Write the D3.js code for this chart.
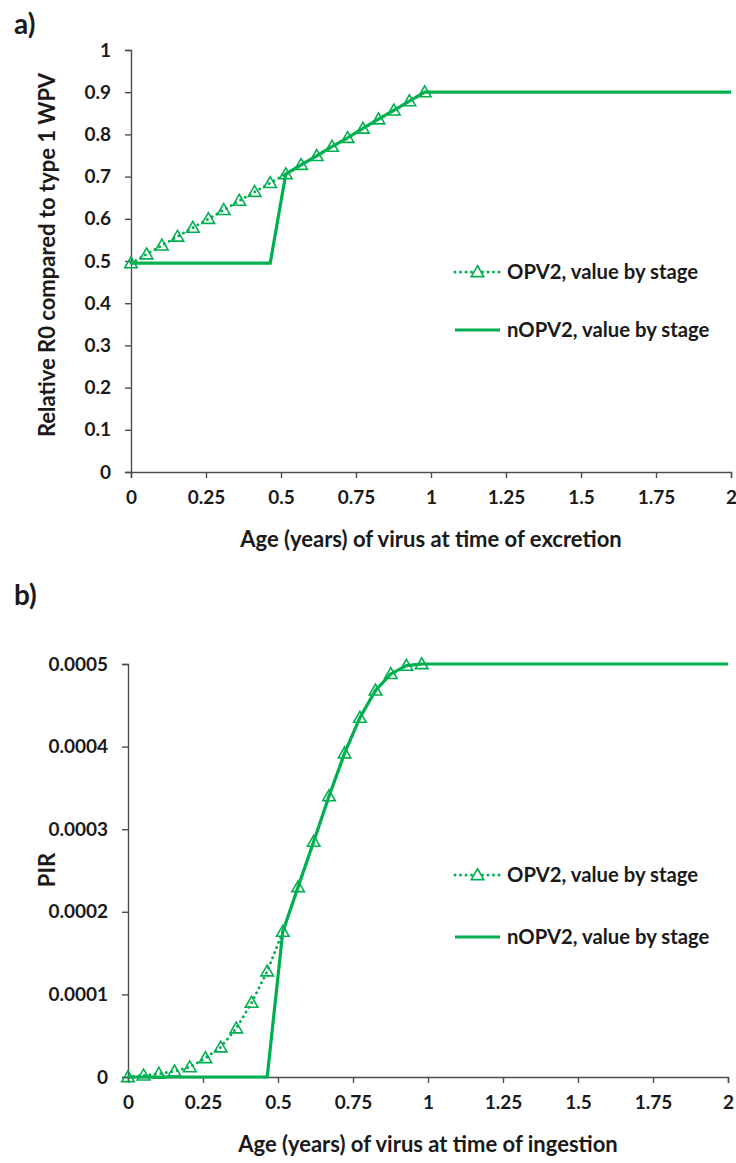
<!DOCTYPE html>
<html>
<head>
<meta charset="utf-8">
<script src="https://cdn.jsdelivr.net/npm/d3@7"></script>
<style>
  body { margin: 0; background: #fff; }
  text { font-family: Lato, "Open Sans", sans-serif; font-weight: bold; fill: #1a1a1a; }
</style>
</head>
<body>
<div id="chart"></div>
<script>
// stage ages (years), shared by both panels
var stageAge = [0, 0.052, 0.103, 0.155, 0.206, 0.258, 0.309, 0.361, 0.412, 0.464,
                0.516, 0.567, 0.619, 0.670, 0.722, 0.773, 0.825, 0.876, 0.928, 0.979];

// panel a) relative R0
var r0Opv2  = [0.495, 0.516, 0.537, 0.558, 0.579, 0.600, 0.621, 0.643, 0.664, 0.685,
               0.706, 0.728, 0.749, 0.771, 0.792, 0.814, 0.836, 0.857, 0.879, 0.900];
var r0NopvAge = [0, 0.052, 0.103, 0.155, 0.206, 0.258, 0.309, 0.361, 0.412, 0.464,
                 0.516, 0.567, 0.619, 0.670, 0.722, 0.773, 0.825, 0.876, 0.928, 0.979, 2];
var r0Nopv2 = [0.495, 0.495, 0.495, 0.495, 0.495, 0.495, 0.495, 0.495, 0.495, 0.495,
               0.706, 0.728, 0.749, 0.771, 0.792, 0.814, 0.836, 0.857, 0.879, 0.900, 0.900];

// panel b) PIR
var pirOpv2  = [0, 0.000002, 0.000004, 0.000007, 0.000012, 0.000023, 0.000036, 0.000059, 0.00009, 0.000128,
                0.000176, 0.00023, 0.000285, 0.00034, 0.000392, 0.000435, 0.000468, 0.000488, 0.000498, 0.0005];
var pirNopvAge = r0NopvAge;
var pirNopv2 = [0, 0, 0, 0, 0, 0, 0, 0, 0, 0,
                0.000176, 0.00023, 0.000285, 0.00034, 0.000392, 0.000435, 0.000468, 0.000488, 0.000498, 0.0005, 0.0005];

var xTicks = [0, 0.25, 0.5, 0.75, 1, 1.25, 1.5, 1.75, 2];
var r0Ticks = [0, 0.1, 0.2, 0.3, 0.4, 0.5, 0.6, 0.7, 0.8, 0.9, 1];
var pirTicks = [0, 0.0001, 0.0002, 0.0003, 0.0004, 0.0005];

var legendNames = ["OPV2, value by stage", "nOPV2, value by stage"];

var green = "#00b050";
var axisColor = "#4d4d4d";

var svg = d3.select("#chart").append("svg")
    .attr("width", 736)
    .attr("height", 1163);

var tri = d3.symbol().type(d3.symbolTriangle).size(68);

function drawPanel(p) {
    var x = d3.scaleLinear().domain([0, 2]).range([p.left, p.right]);
    var y = d3.scaleLinear().domain(p.yDomain).range([p.bottom, p.top]);
    var g = svg.append("g");

    // panel letter
    g.append("text").attr("x", 14).attr("y", p.letterY)
        .style("font-size", "28px").text(p.letter);

    // axes
    var xAxis = g.append("g").attr("transform", "translate(0," + p.bottom + ")")
        .call(d3.axisBottom(x).tickValues(xTicks).tickSize(6).tickPadding(13)
            .tickFormat(function(d) { return String(d); }));
    var yAxis = g.append("g").attr("transform", "translate(" + p.left + ",0)")
        .call(d3.axisLeft(y).tickValues(p.yTicks).tickSize(6).tickPadding(14)
            .tickFormat(p.yFormat));
    [xAxis, yAxis].forEach(function(a) {
        a.select(".domain").attr("stroke", axisColor).attr("stroke-width", 1.4);
        a.selectAll(".tick line").attr("stroke", axisColor).attr("stroke-width", 1.4);
        a.selectAll(".tick text").attr("fill", "#1a1a1a")
            .style("font-size", "19px").style("font-family", "Lato, sans-serif").style("font-weight", "bold");
    });

    // axis titles
    g.append("text").attr("x", (p.left + p.right) / 2).attr("y", p.bottom + 75)
        .attr("text-anchor", "middle").style("font-size", "22px").text(p.xTitle);
    g.append("text")
        .attr("transform", "translate(55," + p.yTitleY + ") rotate(-90)")
        .attr("text-anchor", "middle").style("font-size", "22px").text(p.yTitle);

    var line = d3.line().x(function(d) { return x(d[0]); }).y(function(d) { return y(d[1]); });

    // OPV2 dotted with hollow triangles
    var opv = d3.zip(stageAge, p.opv);
    g.append("path").attr("d", line(opv))
        .attr("fill", "none").attr("stroke", green).attr("stroke-width", 3)
        .attr("stroke-dasharray", "0 5.5").attr("stroke-linecap", "round");
    g.selectAll(".mk").data(opv).enter().append("path")
        .attr("d", tri)
        .attr("transform", function(d) { return "translate(" + x(d[0]) + "," + (y(d[1]) + 1) + ")"; })
        .attr("fill", "none").attr("stroke", green).attr("stroke-width", 1.6);

    // nOPV2 solid
    g.append("path").attr("d", line(d3.zip(p.nopvAge, p.nopv)))
        .attr("fill", "none").attr("stroke", green).attr("stroke-width", 3.2);

    // legend
    var lg = g.append("g");
    lg.append("line").attr("x1", 455).attr("x2", 500).attr("y1", p.legY[0]).attr("y2", p.legY[0])
        .attr("stroke", green).attr("stroke-width", 3)
        .attr("stroke-dasharray", "0 5.5").attr("stroke-linecap", "round");
    lg.append("path").attr("d", tri)
        .attr("transform", "translate(477.5," + (p.legY[0] + 1) + ")")
        .attr("fill", "#fff").attr("stroke", green).attr("stroke-width", 1.6);
    lg.append("line").attr("x1", 455).attr("x2", 500).attr("y1", p.legY[1]).attr("y2", p.legY[1])
        .attr("stroke", green).attr("stroke-width", 3.2);
    legendNames.forEach(function(n, i) {
        lg.append("text").attr("x", 507).attr("y", p.legY[i] + 7)
            .style("font-size", "20.3px").text(n);
    });
}

drawPanel({
    letter: "a)", letterY: 34,
    left: 131, right: 731, top: 50, bottom: 472,
    yDomain: [0, 1], yTicks: r0Ticks, yFormat: function(d) { return String(d); },
    xTitle: "Age (years) of virus at time of excretion",
    yTitle: "Relative R0 compared to type 1 WPV", yTitleY: 255,
    opv: r0Opv2, nopvAge: r0NopvAge, nopv: r0Nopv2,
    legY: [272, 330]
});

drawPanel({
    letter: "b)", letterY: 605,
    left: 128, right: 728, top: 664, bottom: 1077,
    yDomain: [0, 0.0005], yTicks: pirTicks, yFormat: function(d) { return d === 0 ? "0" : d.toFixed(4); },
    xTitle: "Age (years) of virus at time of ingestion",
    yTitle: "PIR", yTitleY: 870,
    opv: pirOpv2, nopvAge: pirNopvAge, nopv: pirNopv2,
    legY: [875, 937]
});
</script>
</body>
</html>
